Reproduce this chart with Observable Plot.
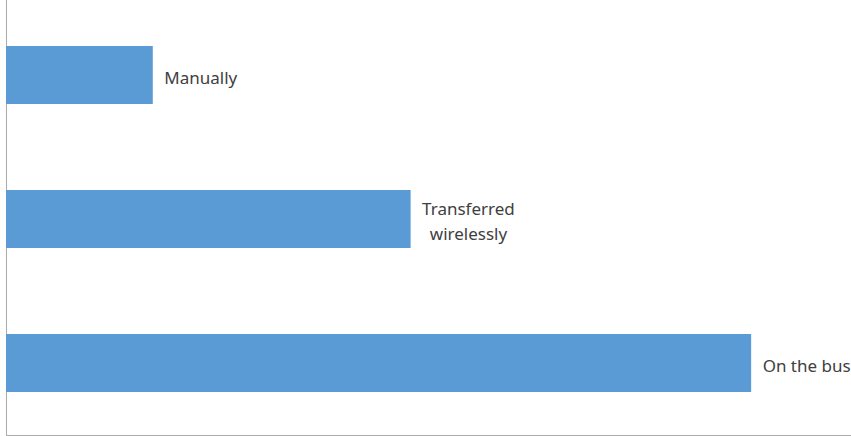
<!DOCTYPE html>
<html>
<head>
<meta charset="utf-8">
<script src="https://cdn.jsdelivr.net/npm/d3@7"></script>
<script src="https://cdn.jsdelivr.net/npm/@observablehq/plot@0.6"></script>
<style>
  html, body { margin: 0; padding: 0; background: #ffffff; }
  svg { display: block; }
</style>
</head>
<body>
<div id="chart"></div>
<script>
// Data (relative lengths, largest = 100)
const categories = ["Manually", "Transferred\nwirelessly", "On the bus"];
const values = [19.7, 54.3, 100];

const data = categories.map((c, i) => ({category: c, value: values[i]}));

const chart = Plot.plot({
  width: 851,
  height: 436,
  marginTop: 0,
  marginLeft: 6,
  marginRight: 0,
  marginBottom: 1,
  style: {background: "#ffffff", fontFamily: "'Noto Sans', sans-serif", color: "#ababab"},
  x: {domain: [0, 113.4], range: [6, 851], axis: "bottom", ticks: [], tickSize: 0, line: true, label: null},
  y: {domain: categories, range: [3, 435], paddingInner: 0.6, paddingOuter: 0.3, axis: "left", ticks: [], tickSize: 0, line: true, label: null},
  marks: [
    Plot.barX(data, {x: "value", y: "category", fill: "#5b9bd5"}),
    Plot.text(data, {x: "value", y: "category", text: "category", textAnchor: "start", lineAnchor: "middle", lineHeight: 1.47, dx: 11, fill: "#404040", fontSize: 17})
  ]
});

document.getElementById("chart").appendChild(chart);

// center multi-line labels horizontally like the reference
chart.querySelectorAll("text").forEach(t => {
  const spans = t.querySelectorAll("tspan");
  if (spans.length > 1) {
    let w = 0;
    spans.forEach(s => { w = Math.max(w, s.getComputedTextLength()); });
    t.setAttribute("text-anchor", "middle");
    spans.forEach(s => s.setAttribute("x", (+s.getAttribute("x") || 0) + w / 2));
  }
});
</script>
</body>
</html>
